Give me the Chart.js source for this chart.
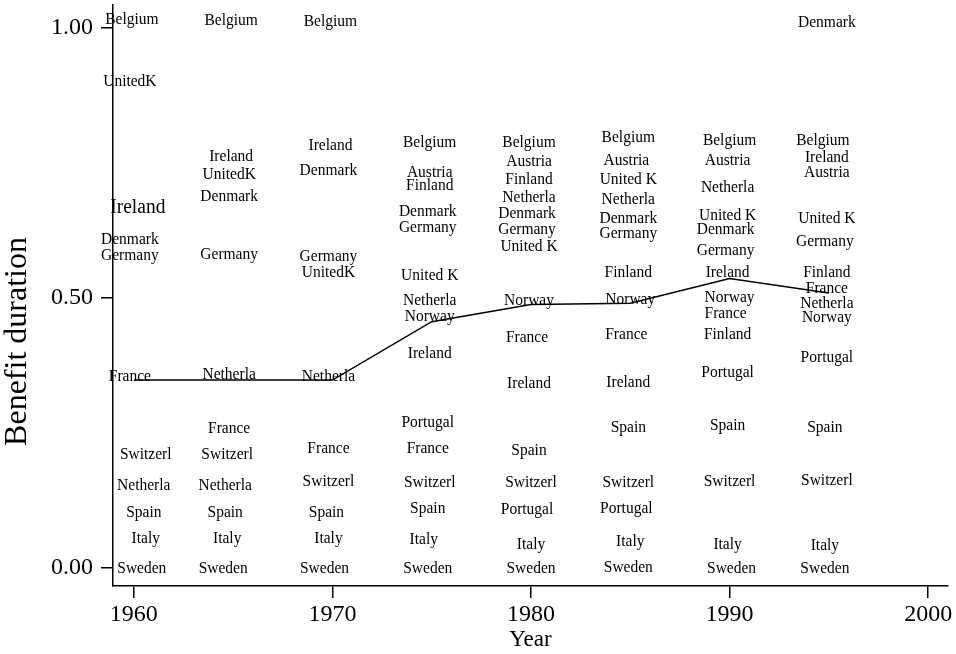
<!DOCTYPE html>
<html>
<head>
<meta charset="utf-8">
<script src="https://cdn.jsdelivr.net/npm/chart.js@4.4.1/dist/chart.umd.min.js"></script>
<style>
  html, body { margin: 0; padding: 0; background: #fff; }
  #wrap { width: 956px; height: 654px; position: relative; }
</style>
</head>
<body>
<div id="wrap"><canvas id="chart"></canvas></div>
<script>
// country labels: name, year, benefit duration (one entry per label)
const labelNames = [
    'Belgium', 'UnitedK', 'Ireland', 'Denmark', 'Germany', 'France', 'Switzerl', 'Netherla', 'Spain', 'Italy', 'Sweden',
    'Belgium', 'Ireland', 'UnitedK', 'Denmark', 'Germany', 'Netherla', 'France', 'Switzerl', 'Netherla', 'Spain', 'Italy', 'Sweden',
    'Belgium', 'Ireland', 'Denmark', 'Germany', 'UnitedK', 'Netherla', 'France', 'Switzerl', 'Spain', 'Italy', 'Sweden',
    'Belgium', 'Austria', 'Finland', 'Denmark', 'Germany', 'United K', 'Netherla', 'Norway', 'Ireland', 'Portugal', 'France', 'Switzerl', 'Spain', 'Italy', 'Sweden',
    'Belgium', 'Austria', 'Finland', 'Netherla', 'Denmark', 'Germany', 'United K', 'Norway', 'France', 'Ireland', 'Spain', 'Switzerl', 'Portugal', 'Italy', 'Sweden',
    'Belgium', 'Austria', 'United K', 'Netherla', 'Denmark', 'Germany', 'Finland', 'Norway', 'France', 'Ireland', 'Spain', 'Switzerl', 'Portugal', 'Italy', 'Sweden',
    'Belgium', 'Austria', 'Netherla', 'United K', 'Denmark', 'Germany', 'Ireland', 'Norway', 'France', 'Finland', 'Portugal', 'Spain', 'Switzerl', 'Italy', 'Sweden',
    'Denmark', 'Belgium', 'Ireland', 'Austria', 'United K', 'Germany', 'Finland', 'France', 'Netherla', 'Norway', 'Portugal', 'Spain', 'Switzerl', 'Italy', 'Sweden'
];
const labelYears = [
    1959.9, 1959.8, 1960.2, 1959.8, 1959.8, 1959.8, 1960.6, 1960.5, 1960.5, 1960.6, 1960.4,
    1964.9, 1964.9, 1964.8, 1964.8, 1964.8, 1964.8, 1964.8, 1964.7, 1964.6, 1964.6, 1964.7, 1964.5,
    1969.9, 1969.9, 1969.8, 1969.8, 1969.8, 1969.8, 1969.8, 1969.8, 1969.7, 1969.8, 1969.6,
    1974.9, 1974.9, 1974.9, 1974.8, 1974.8, 1974.9, 1974.9, 1974.9, 1974.9, 1974.8, 1974.8, 1974.9, 1974.8, 1974.6, 1974.8,
    1979.9, 1979.9, 1979.9, 1979.9, 1979.8, 1979.8, 1979.9, 1979.9, 1979.8, 1979.9, 1979.9, 1980.0, 1979.8, 1980.0, 1980.0,
    1984.9, 1984.8, 1984.9, 1984.9, 1984.9, 1984.9, 1984.9, 1985.0, 1984.8, 1984.9, 1984.9, 1984.9, 1984.8, 1985.0, 1984.9,
    1990.0, 1989.9, 1989.9, 1989.9, 1989.8, 1989.8, 1989.9, 1990.0, 1989.8, 1989.9, 1989.9, 1989.9, 1990.0, 1989.9, 1990.1,
    1994.9, 1994.7, 1994.9, 1994.9, 1994.9, 1994.8, 1994.9, 1994.9, 1994.9, 1994.9, 1994.9, 1994.8, 1994.9, 1994.8, 1994.8
];
const labelValues = [
    1.016, 0.901, 0.668, 0.608, 0.579, 0.355, 0.211, 0.154, 0.103, 0.055, 0.000,
    1.013, 0.761, 0.729, 0.688, 0.581, 0.359, 0.259, 0.211, 0.154, 0.103, 0.055, 0.000,
    1.012, 0.782, 0.736, 0.577, 0.548, 0.355, 0.222, 0.161, 0.103, 0.055, 0.000,
    0.788, 0.733, 0.709, 0.660, 0.631, 0.542, 0.495, 0.465, 0.397, 0.269, 0.222, 0.159, 0.110, 0.054, 0.000,
    0.787, 0.753, 0.720, 0.686, 0.657, 0.626, 0.595, 0.496, 0.427, 0.342, 0.217, 0.159, 0.108, 0.044, 0.000,
    0.797, 0.754, 0.720, 0.682, 0.647, 0.620, 0.547, 0.498, 0.433, 0.344, 0.260, 0.159, 0.111, 0.050, 0.001,
    0.791, 0.754, 0.705, 0.653, 0.626, 0.588, 0.547, 0.500, 0.472, 0.433, 0.362, 0.264, 0.161, 0.044, 0.000,
    1.009, 0.791, 0.760, 0.732, 0.647, 0.605, 0.547, 0.517, 0.489, 0.463, 0.390, 0.260, 0.163, 0.042, 0.000
];

// connected line
const lineYears = [1960, 1965, 1970, 1975, 1980, 1985, 1990, 1995];
const lineValues = [0.348, 0.348, 0.348, 0.456, 0.488, 0.490, 0.536, 0.509];

const xTicks = [1960, 1970, 1980, 1990, 2000];
const yTicks = [0, 0.5, 1];

const serif = '"Liberation Serif", "Times New Roman", serif';
const bigLabel = 2; // the first Ireland is printed larger

const labelPlugin = {
    id: 'countryLabels',
    afterDatasetsDraw(chart) {
        const ctx = chart.ctx;
        const meta = chart.getDatasetMeta(1);
        ctx.save();
        ctx.fillStyle = '#000';
        ctx.textAlign = 'center';
        ctx.textBaseline = 'middle';
        meta.data.forEach((pt, i) => {
            ctx.font = (i === bigLabel ? 19.5 : 15.5) + 'px ' + serif;
            ctx.save();
            ctx.translate(pt.x, pt.y);
            ctx.scale(1, 1.12);
            ctx.fillText(labelNames[i], 0, 0);
            ctx.restore();
        });

        // y axis title, set below the middle of the axis as in the original
        const area = chart.chartArea;
        ctx.font = '32px ' + serif;
        ctx.translate(18, (area.top + area.bottom) / 2 + 46);
        ctx.rotate(-Math.PI / 2);
        ctx.fillText('Benefit duration', 0, 0);
        ctx.restore();
    }
};

new Chart(document.getElementById('chart'), {
    type: 'scatter',
    data: {
        datasets: [
            {
                type: 'line',
                data: lineYears.map((x, i) => ({ x: x, y: lineValues[i] })),
                borderColor: '#000',
                borderWidth: 1.5,
                pointRadius: 0,
                tension: 0,
                fill: false
            },
            {
                data: labelYears.map((x, i) => ({ x: x, y: labelValues[i] })),
                pointRadius: 0,
                pointHoverRadius: 0
            }
        ]
    },
    options: {
        responsive: true,
        maintainAspectRatio: false,
        animation: false,
        events: [],
        layout: { padding: { top: 5, right: 8, left: 0, bottom: 0 } },
        plugins: { legend: { display: false }, tooltip: { enabled: false } },
        scales: {
            x: {
                type: 'linear',
                min: 1958.95,
                max: 2001,
                afterBuildTicks: s => { s.ticks = xTicks.map(v => ({ value: v })); },
                afterFit: s => { s.height = 68; s.paddingLeft = 0; s.paddingRight = 0; },
                ticks: {
                    color: '#000',
                    font: { family: serif, size: 24 },
                    padding: 2,
                    maxRotation: 0,
                    callback: v => String(v)
                },
                grid: { drawOnChartArea: false, drawTicks: true, tickLength: 12, color: '#000', lineWidth: 1.5 },
                border: { display: true, color: '#000', width: 1.5 },
                title: { display: true, text: 'Year', color: '#000', font: { family: serif, size: 23 }, padding: { top: 0, bottom: 0 } }
            },
            y: {
                type: 'linear',
                min: -0.033,
                max: 1.042,
                afterBuildTicks: s => { s.ticks = yTicks.map(v => ({ value: v })); },
                afterFit: s => { s.width = 113; s.paddingTop = 0; s.paddingBottom = 0; },
                ticks: {
                    color: '#000',
                    font: { family: serif, size: 24 },
                    padding: 8,
                    callback: v => Number(v).toFixed(2)
                },
                grid: { drawOnChartArea: false, drawTicks: true, tickLength: 12, color: '#000', lineWidth: 1.5 },
                border: { display: true, color: '#000', width: 1.5 },
                title: { display: false }
            }
        }
    },
    plugins: [labelPlugin]
});
</script>
</body>
</html>
